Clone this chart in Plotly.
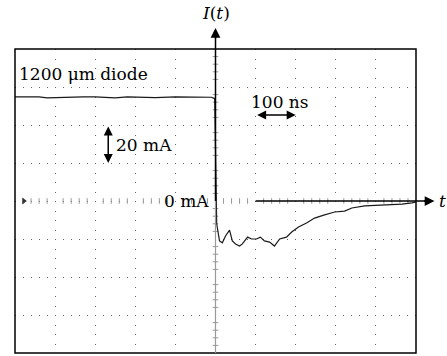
import plotly.graph_objects as go

# Time in ns (100 ns / division), current in mA (20 mA / division)
t_ns = [-500, -440, -420, -380, -330, -300, -250, -220, -180, -150, -100, -60, -30, -10, -4, -2,
        3, 7, 10, 17, 25, 35, 42, 50, 60, 67, 80, 90, 102, 112, 122, 135, 147, 160, 177, 190,
        207, 227, 247, 270, 297, 322, 340, 372, 432, 465, 490, 500]
i_mA = [54.8, 54.8, 54.3, 54.6, 54.8, 54.8, 54.3, 54.8, 54.6, 54.4, 54.8, 54.6, 54.8, 54.6, 54.0, 54.0,
        -12.0, -17.4, -21.0, -22.0, -18.4, -15.3, -21.0, -22.6, -23.7, -22.6, -19.0, -20.0, -20.0, -19.0,
        -21.0, -21.6, -23.7, -20.0, -19.0, -16.3, -13.7, -11.6, -9.0, -7.4, -5.8, -5.3, -3.7, -2.6,
        -2.1, -1.6, -1.0, -0.5]

x_range = [-500, 500]
y_range = [-80, 80]
minor_t = [t for t in range(-480, 500, 20) if t % 100 != 0]
minor_i = [v for v in range(-76, 80, 4) if v % 20 != 0]

FONT = "DejaVu Serif"
FS = 17

def px(t):
    return (t - x_range[0]) / (x_range[1] - x_range[0])

def py(v):
    return (v - y_range[0]) / (y_range[1] - y_range[0])

fig = go.Figure()

# scope minor ticks along the centre lines
fig.add_trace(go.Scatter(x=minor_t, y=[0] * len(minor_t), mode="markers",
                         marker=dict(symbol="line-ns", size=4, line=dict(width=1, color="#999")),
                         hoverinfo="skip", showlegend=False))
fig.add_trace(go.Scatter(x=[0] * len(minor_i), y=minor_i, mode="markers",
                         marker=dict(symbol="line-ew", size=4, line=dict(width=1, color="#999")),
                         hoverinfo="skip", showlegend=False))
# ground marker
fig.add_trace(go.Scatter(x=[-478], y=[0], mode="markers",
                         marker=dict(symbol="triangle-right", size=6, color="#333"),
                         hoverinfo="skip", showlegend=False))

fig.add_trace(go.Scatter(x=t_ns, y=i_mA, mode="lines",
                         line=dict(color="#1a1a1a", width=1.2),
                         hoverinfo="skip", showlegend=False))

shapes = [
    # frame
    dict(type="rect", xref="paper", yref="paper", x0=0, x1=1, y0=0, y1=1,
         line=dict(color="black", width=1.5), layer="above"),
    # lower half of the vertical centre line (grey)
    dict(type="line", xref="paper", yref="paper", x0=px(0), x1=px(0), y0=0, y1=py(0),
         line=dict(color="#999", width=1.2), layer="above"),
    # I(t) axis
    dict(type="line", xref="paper", yref="paper", x0=px(0), x1=px(0), y0=py(0), y1=1.04,
         line=dict(color="black", width=1.5), layer="above"),
    # t axis
    dict(type="line", xref="paper", yref="paper", x0=px(100), x1=1.03, y0=py(0), y1=py(0),
         line=dict(color="black", width=1.5), layer="above"),
]

annotations = [
    # arrow heads of the axes
    dict(xref="paper", yref="paper", x=px(0), y=1.069, ax=0, ay=12, text="", showarrow=True,
         arrowhead=2, arrowsize=1.3, arrowwidth=1.5, arrowcolor="black"),
    dict(xref="paper", yref="paper", x=1.046, y=py(0), ax=-12, ay=0, text="", showarrow=True,
         arrowhead=2, arrowsize=1.3, arrowwidth=1.5, arrowcolor="black"),
    dict(xref="paper", yref="paper", x=px(0), y=1.12, xanchor="center", yanchor="middle",
         text="<i>I</i>(<i>t</i>)", showarrow=False,
         font=dict(family=FONT, size=FS, color="black")),
    dict(xref="paper", yref="paper", x=1.065, y=py(0), xanchor="center", yanchor="middle",
         text="<i>t</i>", showarrow=False,
         font=dict(family=FONT, size=FS, color="black")),
    # text labels
    dict(x=-495, y=67, text="1200 \u03bcm diode", showarrow=False, xanchor="left",
         font=dict(family=FONT, size=FS, color="black")),
    dict(x=-253, y=29.5, text="20 mA", showarrow=False, xanchor="left",
         font=dict(family=FONT, size=FS, color="black")),
    dict(x=-10, y=0, text="0 mA", showarrow=False, xanchor="right",
         font=dict(family=FONT, size=FS, color="black")),
    dict(x=162, y=52, text="100 ns", showarrow=False,
         font=dict(family=FONT, size=FS, color="black")),
    # double arrows (scale bars)
    dict(x=-267.5, y=20, ax=-267.5, ay=40, xref="x", yref="y", axref="x", ayref="y", text="",
         showarrow=True, arrowhead=2, startarrowhead=2, arrowside="end+start",
         arrowsize=1.2, startarrowsize=1.2, arrowwidth=1.5, arrowcolor="black"),
    dict(x=200, y=45.3, ax=100, ay=45.3, xref="x", yref="y", axref="x", ayref="y", text="",
         showarrow=True, arrowhead=2, startarrowhead=2, arrowside="end+start",
         arrowsize=1.2, startarrowsize=1.2, arrowwidth=1.5, arrowcolor="black"),
]

grid_color = "#666"
fig.update_layout(
    width=447, height=356,
    margin=dict(l=15, r=31, t=49, b=3),
    paper_bgcolor="white", plot_bgcolor="white",
    font=dict(family=FONT),
    shapes=shapes, annotations=annotations,
    xaxis=dict(range=x_range, dtick=100, tick0=0, showgrid=True, gridcolor=grid_color,
               gridwidth=1, griddash="1px,8.5px", zeroline=False, showticklabels=False,
               ticks="", showline=False, fixedrange=True),
    yaxis=dict(range=y_range, dtick=20, tick0=0, showgrid=True, gridcolor=grid_color,
               gridwidth=1, griddash="1px,7px", zeroline=False, showticklabels=False,
               ticks="", showline=False, fixedrange=True),
)

fig.write_html("out.html", config={"displayModeBar": False, "staticPlot": True},
               post_script="document.body.style.margin='0';document.body.style.overflow='hidden';")
